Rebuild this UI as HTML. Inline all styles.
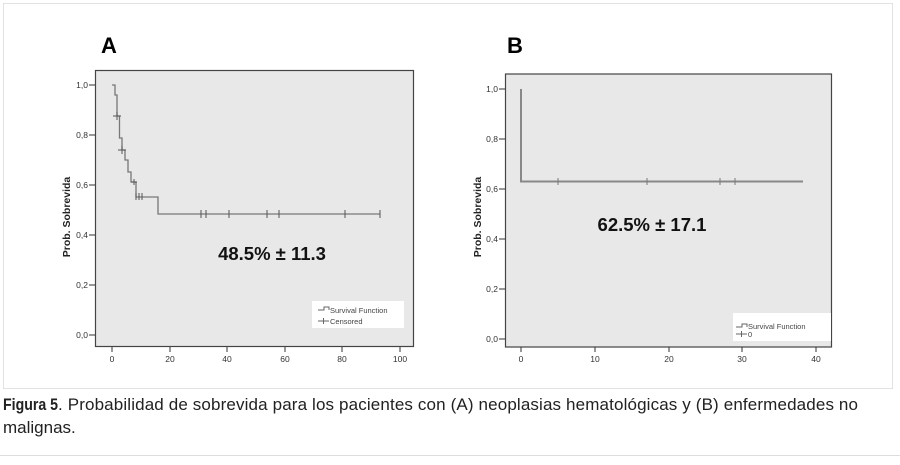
<!DOCTYPE html>
<html><head><meta charset="utf-8"><style>
body{margin:0;background:#fff;width:900px;height:460px;overflow:hidden;font-family:"Liberation Sans",sans-serif}
</style></head><body>
<svg width="900" height="460" xmlns="http://www.w3.org/2000/svg" font-family="Liberation Sans, sans-serif">
<rect x="3.5" y="3.5" width="889" height="385" fill="#fff" stroke="#e2e2e2"/>
<!-- Chart A -->
<text x="101" y="53" font-size="22" font-weight="bold">A</text>
<rect x="95.5" y="70.5" width="318" height="276" fill="#e8e8e8" stroke="#444" stroke-width="1.2"/>
<g font-size="8.5" fill="#333" text-anchor="end">
<text x="88" y="88">1,0</text><text x="88" y="138">0,8</text><text x="88" y="188">0,6</text>
<text x="88" y="238">0,4</text><text x="88" y="288">0,2</text><text x="88" y="338">0,0</text>
</g>
<g stroke="#333"><path d="M89 85h6M89 135h6M89 185h6M89 235h6M89 285h6M89 335h6M112 347v5M170 347v5M227 347v5M285 347v5M342 347v5M400 347v5"/></g>
<g font-size="8.5" fill="#333" text-anchor="middle">
<text x="112" y="362">0</text><text x="170" y="362">20</text><text x="227" y="362">40</text><text x="285" y="362">60</text><text x="342" y="362">80</text><text x="400" y="362">100</text>
</g>
<text transform="translate(70,217) rotate(-90)" font-size="10.5" font-weight="bold" text-anchor="middle" fill="#222">Prob. Sobrevida</text>
<path d="M112 85H115V95H117V116H119.5V138H122V150H125V160H128V172H131V182H136V197H158V214H380" fill="none" stroke="#777" stroke-width="1.3"/>
<g stroke="#555" stroke-width="1"><path d="M113 116h8M117 112v8M118 150h8M122 146v8M131 182h6M134 179v6M136 193v7M139 193v7M142 193v7M201 210v8M206 210v8M229 210v8M267 210v8M279 210v8M345 210v8M380 210v8"/></g>
<text x="272" y="260" font-size="18.5" font-weight="bold" text-anchor="middle" fill="#111">48.5% ± 11.3</text>
<rect x="312" y="301" width="92" height="27" fill="#fff"/>
<path d="M318 310h6v-3h5v3M318 321h11M323.5 318v6" fill="none" stroke="#666"/>
<text x="330" y="313" font-size="7.5" fill="#444">Survival Function</text>
<text x="330" y="324" font-size="7.5" fill="#444">Censored</text>
<!-- Chart B -->
<text x="507" y="53" font-size="22" font-weight="bold">B</text>
<rect x="505.5" y="74" width="326" height="273" fill="#e8e8e8" stroke="#444" stroke-width="1.2"/>
<g font-size="8.5" fill="#333" text-anchor="end">
<text x="498" y="92">1,0</text><text x="498" y="142">0,8</text><text x="498" y="192">0,6</text>
<text x="498" y="242">0,4</text><text x="498" y="292">0,2</text><text x="498" y="342">0,0</text>
</g>
<g stroke="#333"><path d="M499 89h6M499 139h6M499 189h6M499 239h6M499 289h6M499 339h6M521 347v5M595 347v5M669 347v5M742 347v5M816 347v5"/></g>
<g font-size="8.5" fill="#333" text-anchor="middle">
<text x="521" y="362">0</text><text x="595" y="362">10</text><text x="669" y="362">20</text><text x="742" y="362">30</text><text x="816" y="362">40</text>
</g>
<text transform="translate(481,217) rotate(-90)" font-size="10.5" font-weight="bold" text-anchor="middle" fill="#222">Prob. Sobrevida</text>
<path d="M521 89V181.5H803" fill="none" stroke="#888" stroke-width="2"/>
<g stroke="#777"><path d="M558 178v7M647 178v7M720 178v7M735 178v7"/></g>
<text x="652" y="231" font-size="18.5" font-weight="bold" text-anchor="middle" fill="#111">62.5% ± 17.1</text>
<rect x="733" y="313" width="98" height="28" fill="#fff"/>
<path d="M736 327h6v-3h5v3M736 334h11M741.5 331v6" fill="none" stroke="#666"/>
<text x="748" y="329" font-size="7.5" fill="#444">Survival Function</text>
<text x="748" y="337" font-size="7.5" fill="#444">0</text>
<!-- caption -->
<text x="3" y="410" font-size="17" fill="#222"><tspan font-weight="bold" textLength="55" lengthAdjust="spacingAndGlyphs">Figura 5</tspan><tspan textLength="800" lengthAdjust="spacing">. Probabilidad de sobrevida para los pacientes con (A) neoplasias hematológicas y (B) enfermedades no</tspan></text>
<text x="3" y="433" font-size="17" fill="#222">malignas.</text>
<path d="M0 455.5H900" stroke="#ddd"/>
</svg>
</body></html>
